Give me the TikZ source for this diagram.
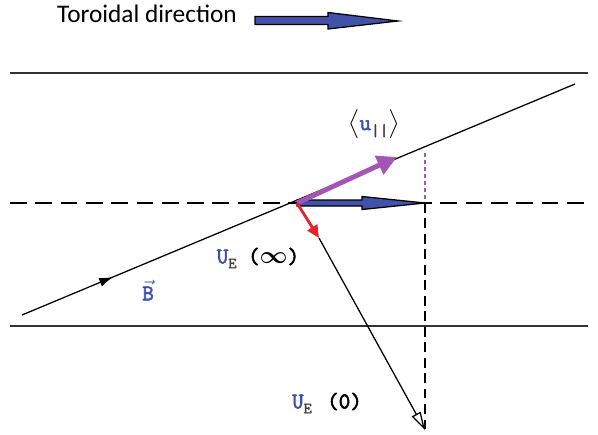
\documentclass[tikz,border=0pt]{standalone}
\usepackage{fontspec}
\setmainfont{Carlito}
\newfontfamily\lbltt{Latin Modern Mono}[FakeBold=2.5]
\usepackage{amsmath}
\usepackage{tikz}
\usetikzlibrary{arrows.meta, positioning, calc, decorations.markings}
\definecolor{labelblue}{RGB}{58,80,176}
\definecolor{arrowblue}{RGB}{66,82,170}
\definecolor{upurple}{RGB}{165,85,180}
\definecolor{ered}{RGB}{232,32,42}
\tikzset{
  lbl/.style={font=\fontsize{16}{19}\selectfont\lbltt, inner sep=0pt},
  wall/.style={line width=1.2pt, black!80},
  midline/.style={line width=1pt, dash pattern=on 12pt off 6pt}
}
\newcommand{\subE}{\raisebox{-0.5ex}{\fontsize{11}{12}\selectfont\color{black!75}E}}

\begin{document}
\begin{tikzpicture}[x=0.025cm, y=-0.025cm]
  \useasboundingbox (0,0) rectangle (598,434);
  % Sens toroidal
  \node[font=\fontsize{18}{21}\selectfont, anchor=base, inner sep=0pt] (tor) at (147,23) {Toroidal direction};
  \draw[line width=0.9pt, fill=arrowblue] (255,16.5) -- (328,16.5) -- (328,12.5) -- (398,21)
        -- (328,29) -- (328,24.5) -- (255,24.5) -- cycle;

  \coordinate (tl) at (10,73);  \coordinate (tr) at (588,73);
  \coordinate (bl) at (10,326); \coordinate (br) at (588,326);
  \coordinate (dl) at (10,203); \coordinate (dr) at (588,203);
  \coordinate (O) at (297,203);
  \coordinate (Bs) at (22,315); \coordinate (Be) at (575,84);
  \coordinate (P) at (397,157);
  \coordinate (Pt) at (425,153); \coordinate (Pb) at (425,200);
  \coordinate (H) at (425,203); \coordinate (V0) at (425,430);
  \coordinate (R) at (319,238);

  \draw[wall] (tl) -- (tr);
  \draw[wall] (bl) -- (br);
  \draw[midline] (dl) -- (dr);
  \draw[line width=1pt, dash pattern=on 7pt off 4pt] (H) -- (V0);
  \draw[upurple, line width=0.8pt, dash pattern=on 3pt off 2pt] (Pt) -- (Pb);

  % ligne de champ B
  \draw[line width=0.9pt, postaction={decorate},
        decoration={markings, mark=at position 0.165 with {\arrow{Latex[length=10pt,width=6.5pt]}}}]
        (Bs) -- (Be);

  % vitesses
  \draw[line width=0.9pt, fill=arrowblue] (O) ++(0,-3) -- (362,200) -- (362,196.5) -- (H)
        -- (362,209.5) -- (362,206) -- ++(-65,0) -- cycle;
  \draw[upurple, line width=3.5pt, -{Triangle[length=14pt,width=14pt]}] (O) -- (P);
  \draw[line width=0.9pt, -{Triangle[open,length=13pt,width=7pt]}] (R) -- (V0);
  \draw[ered, line width=2pt, -{Triangle[length=9pt,width=8pt]}] (O) -- (R);

  \node[lbl] (upar) at (374,124) {$\big\langle$\textcolor{labelblue}{u}\raisebox{-0.6ex}{\fontsize{12}{13}\selectfont\color{black!75}||}$\big\rangle$};
  \node[lbl] (uinf) at (258,258) {\textcolor{labelblue}{U}\subE{} ($\boldsymbol{\infty}$)};
  \node[lbl] (uzero) at (327,403) {\textcolor{labelblue}{U}\subE\ \,(0)};
  \node[lbl, text=labelblue] (Bl) at (148,290) {$\vec{\text{\lbltt B}}$};
\end{tikzpicture}
\end{document}
